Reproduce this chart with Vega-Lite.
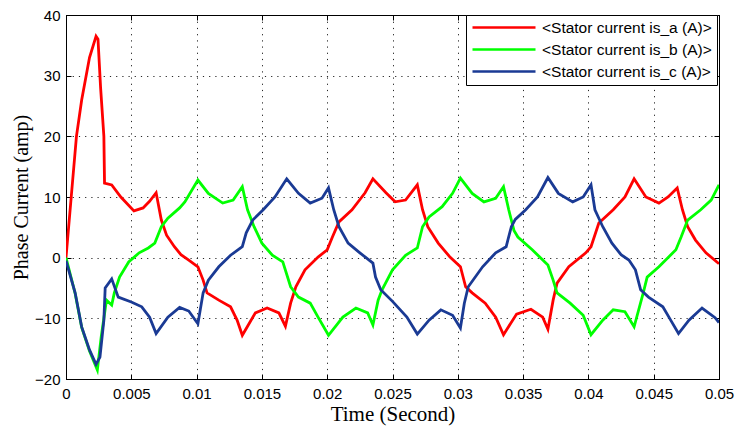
{
  "$schema": "https://vega.github.io/schema/vega-lite/v6.json",
  "width": 653,
  "height": 364,
  "autosize": "none",
  "padding": {"left": 66, "top": 15, "right": 18, "bottom": 49},
  "background": "white",
  "config": {"view": {"stroke": "black", "strokeWidth": 1}, "font": "Liberation Sans"},
  "data": {"values": [
    {"s":"a","t":0,"v":0},{"s":"a","t":0.0004,"v":10},{"s":"a","t":0.0008,"v":20},{"s":"a","t":0.0012,"v":26},{"s":"a","t":0.0018,"v":33},{"s":"a","t":0.0023,"v":36.5},{"s":"a","t":0.00245,"v":36},{"s":"a","t":0.00265,"v":28},{"s":"a","t":0.0029,"v":20},{"s":"a","t":0.00295,"v":12.3},{"s":"a","t":0.0035,"v":12},{"s":"a","t":0.0042,"v":10},{"s":"a","t":0.0052,"v":7.7},{"s":"a","t":0.0059,"v":8.2},{"s":"a","t":0.0064,"v":9.3},{"s":"a","t":0.0069,"v":10.7},{"s":"a","t":0.0073,"v":6.2},{"s":"a","t":0.0077,"v":3.7},{"s":"a","t":0.0083,"v":1.8},{"s":"a","t":0.0088,"v":0.5},{"s":"a","t":0.0094,"v":-0.4},{"s":"a","t":0.0101,"v":-1.5},{"s":"a","t":0.0105,"v":-3.7},{"s":"a","t":0.0108,"v":-5.8},{"s":"a","t":0.0117,"v":-7},{"s":"a","t":0.0126,"v":-8.1},{"s":"a","t":0.0131,"v":-10.3},{"s":"a","t":0.0135,"v":-12.8},{"s":"a","t":0.0145,"v":-9.1},{"s":"a","t":0.0154,"v":-8.3},{"s":"a","t":0.0163,"v":-9.1},{"s":"a","t":0.0168,"v":-11.3},{"s":"a","t":0.0172,"v":-7.5},{"s":"a","t":0.0176,"v":-4.8},{"s":"a","t":0.0183,"v":-2},{"s":"a","t":0.0193,"v":0.1},{"s":"a","t":0.02,"v":1.3},{"s":"a","t":0.0204,"v":3.4},{"s":"a","t":0.0209,"v":5.9},{"s":"a","t":0.0219,"v":7.9},{"s":"a","t":0.0229,"v":10.7},{"s":"a","t":0.0235,"v":13},{"s":"a","t":0.0245,"v":10.7},{"s":"a","t":0.0252,"v":9.2},{"s":"a","t":0.026,"v":9.5},{"s":"a","t":0.0269,"v":12},{"s":"a","t":0.0273,"v":7.9},{"s":"a","t":0.0277,"v":5.1},{"s":"a","t":0.0285,"v":2.4},{"s":"a","t":0.0294,"v":0.1},{"s":"a","t":0.0302,"v":-1.5},{"s":"a","t":0.0306,"v":-4.8},{"s":"a","t":0.0311,"v":-5.8},{"s":"a","t":0.0321,"v":-7.5},{"s":"a","t":0.0329,"v":-9.8},{"s":"a","t":0.0335,"v":-12.7},{"s":"a","t":0.0345,"v":-9.3},{"s":"a","t":0.0356,"v":-8.5},{"s":"a","t":0.0365,"v":-9.8},{"s":"a","t":0.0369,"v":-11.8},{"s":"a","t":0.0373,"v":-7},{"s":"a","t":0.0376,"v":-4.2},{"s":"a","t":0.0385,"v":-1.5},{"s":"a","t":0.0398,"v":0.8},{"s":"a","t":0.0402,"v":1.8},{"s":"a","t":0.0408,"v":5.7},{"s":"a","t":0.0419,"v":7.9},{"s":"a","t":0.0428,"v":10},{"s":"a","t":0.0435,"v":13},{"s":"a","t":0.0444,"v":10},{"s":"a","t":0.0454,"v":9},{"s":"a","t":0.0461,"v":10},{"s":"a","t":0.0468,"v":11.5},{"s":"a","t":0.0472,"v":7.9},{"s":"a","t":0.0476,"v":5.1},{"s":"a","t":0.0482,"v":2.9},{"s":"a","t":0.049,"v":0.8},{"s":"a","t":0.05,"v":-1},
    {"s":"b","t":0,"v":0},{"s":"b","t":0.0007,"v":-5.9},{"s":"b","t":0.0012,"v":-11.5},{"s":"b","t":0.0018,"v":-15.4},{"s":"b","t":0.0024,"v":-18.5},{"s":"b","t":0.0027,"v":-13},{"s":"b","t":0.0031,"v":-7},{"s":"b","t":0.0035,"v":-7.8},{"s":"b","t":0.0037,"v":-5.8},{"s":"b","t":0.0041,"v":-3.2},{"s":"b","t":0.0048,"v":-0.7},{"s":"b","t":0.0056,"v":0.8},{"s":"b","t":0.0063,"v":1.6},{"s":"b","t":0.0068,"v":2.4},{"s":"b","t":0.0073,"v":5.1},{"s":"b","t":0.0078,"v":6.5},{"s":"b","t":0.0087,"v":8.2},{"s":"b","t":0.0091,"v":9.2},{"s":"b","t":0.0101,"v":12.8},{"s":"b","t":0.0109,"v":10.6},{"s":"b","t":0.012,"v":9},{"s":"b","t":0.0128,"v":9.5},{"s":"b","t":0.0135,"v":11.7},{"s":"b","t":0.0139,"v":7.9},{"s":"b","t":0.0144,"v":5.1},{"s":"b","t":0.015,"v":2.4},{"s":"b","t":0.0158,"v":0.4},{"s":"b","t":0.0166,"v":-0.7},{"s":"b","t":0.0172,"v":-4.8},{"s":"b","t":0.0178,"v":-6.5},{"s":"b","t":0.0187,"v":-7.5},{"s":"b","t":0.0193,"v":-9.8},{"s":"b","t":0.0201,"v":-12.8},{"s":"b","t":0.0212,"v":-9.8},{"s":"b","t":0.0222,"v":-8.3},{"s":"b","t":0.0231,"v":-9.1},{"s":"b","t":0.0235,"v":-11.1},{"s":"b","t":0.0239,"v":-7},{"s":"b","t":0.0242,"v":-5.3},{"s":"b","t":0.025,"v":-2},{"s":"b","t":0.026,"v":0.4},{"s":"b","t":0.0269,"v":1.6},{"s":"b","t":0.0273,"v":5.1},{"s":"b","t":0.0278,"v":6.7},{"s":"b","t":0.0288,"v":8.4},{"s":"b","t":0.0296,"v":10.6},{"s":"b","t":0.0302,"v":13.1},{"s":"b","t":0.0311,"v":10.6},{"s":"b","t":0.032,"v":9.2},{"s":"b","t":0.0329,"v":9.8},{"s":"b","t":0.0335,"v":11.7},{"s":"b","t":0.0339,"v":7.9},{"s":"b","t":0.0343,"v":4.5},{"s":"b","t":0.0346,"v":3.4},{"s":"b","t":0.0357,"v":1.3},{"s":"b","t":0.0369,"v":-1.2},{"s":"b","t":0.0373,"v":-3.7},{"s":"b","t":0.0376,"v":-5.8},{"s":"b","t":0.0386,"v":-7.5},{"s":"b","t":0.0396,"v":-9.5},{"s":"b","t":0.0402,"v":-12.7},{"s":"b","t":0.0411,"v":-10.3},{"s":"b","t":0.0419,"v":-8.6},{"s":"b","t":0.0428,"v":-8.9},{"s":"b","t":0.0435,"v":-11.4},{"s":"b","t":0.0442,"v":-5.8},{"s":"b","t":0.0445,"v":-3.2},{"s":"b","t":0.0454,"v":-1.5},{"s":"b","t":0.0467,"v":1.3},{"s":"b","t":0.0471,"v":3.4},{"s":"b","t":0.0476,"v":6.2},{"s":"b","t":0.0486,"v":7.9},{"s":"b","t":0.0494,"v":9.5},{"s":"b","t":0.05,"v":12},
    {"s":"c","t":0,"v":-0.5},{"s":"c","t":0.0007,"v":-5.8},{"s":"c","t":0.0012,"v":-11.4},{"s":"c","t":0.0018,"v":-15.2},{"s":"c","t":0.0023,"v":-17.6},{"s":"c","t":0.0026,"v":-16.4},{"s":"c","t":0.0029,"v":-10.3},{"s":"c","t":0.003,"v":-5},{"s":"c","t":0.0035,"v":-3.5},{"s":"c","t":0.004,"v":-6.5},{"s":"c","t":0.005,"v":-7.3},{"s":"c","t":0.0058,"v":-8.1},{"s":"c","t":0.0064,"v":-9.8},{"s":"c","t":0.0069,"v":-12.5},{"s":"c","t":0.0078,"v":-9.8},{"s":"c","t":0.0087,"v":-8.2},{"s":"c","t":0.0094,"v":-8.8},{"s":"c","t":0.0101,"v":-10.9},{"s":"c","t":0.0105,"v":-5.8},{"s":"c","t":0.0109,"v":-3.7},{"s":"c","t":0.0117,"v":-1.5},{"s":"c","t":0.0126,"v":0.4},{"s":"c","t":0.0135,"v":1.8},{"s":"c","t":0.0138,"v":4.1},{"s":"c","t":0.0143,"v":6.2},{"s":"c","t":0.0151,"v":7.9},{"s":"c","t":0.016,"v":10},{"s":"c","t":0.0169,"v":13},{"s":"c","t":0.0178,"v":10.6},{"s":"c","t":0.0187,"v":9},{"s":"c","t":0.0196,"v":9.8},{"s":"c","t":0.0201,"v":11.5},{"s":"c","t":0.0205,"v":7.9},{"s":"c","t":0.0209,"v":5.1},{"s":"c","t":0.0216,"v":2.4},{"s":"c","t":0.0225,"v":0.8},{"s":"c","t":0.0235,"v":-0.9},{"s":"c","t":0.0237,"v":-3.2},{"s":"c","t":0.0241,"v":-5.3},{"s":"c","t":0.025,"v":-7.2},{"s":"c","t":0.0261,"v":-9.8},{"s":"c","t":0.0269,"v":-12.6},{"s":"c","t":0.0278,"v":-10.3},{"s":"c","t":0.0287,"v":-8.6},{"s":"c","t":0.0296,"v":-9.5},{"s":"c","t":0.0302,"v":-11.6},{"s":"c","t":0.0305,"v":-7.5},{"s":"c","t":0.0308,"v":-4.8},{"s":"c","t":0.0319,"v":-1.5},{"s":"c","t":0.0329,"v":0.8},{"s":"c","t":0.0337,"v":1.8},{"s":"c","t":0.0341,"v":5.1},{"s":"c","t":0.0344,"v":6.3},{"s":"c","t":0.0352,"v":7.9},{"s":"c","t":0.0361,"v":10},{"s":"c","t":0.0369,"v":13.2},{"s":"c","t":0.0377,"v":10.6},{"s":"c","t":0.0388,"v":9.2},{"s":"c","t":0.0396,"v":10},{"s":"c","t":0.0402,"v":12},{"s":"c","t":0.0405,"v":7.9},{"s":"c","t":0.0411,"v":5.1},{"s":"c","t":0.0418,"v":2.4},{"s":"c","t":0.0425,"v":0.5},{"s":"c","t":0.0431,"v":-0.4},{"s":"c","t":0.0436,"v":-2},{"s":"c","t":0.044,"v":-5.3},{"s":"c","t":0.0446,"v":-6.5},{"s":"c","t":0.0457,"v":-8.1},{"s":"c","t":0.0463,"v":-10.3},{"s":"c","t":0.0469,"v":-12.5},{"s":"c","t":0.0477,"v":-10.3},{"s":"c","t":0.0487,"v":-8.3},{"s":"c","t":0.0497,"v":-9.9},{"s":"c","t":0.05,"v":-10.7}
  ]},
  "layer": [
    {
      "mark": {"type": "line", "strokeWidth": 2.8, "clip": true},
      "encoding": {
        "x": {"field": "t", "type": "quantitative",
          "scale": {"domain": [0, 0.05], "nice": false, "zero": false},
          "axis": {"values": [0,0.005,0.01,0.015,0.02,0.025,0.03,0.035,0.04,0.045,0.05], "format": "~g",
            "title": "Time (Second)", "titleFont": "Liberation Serif", "titleFontSize": 21, "titleFontWeight": "normal", "titleColor": "black", "titlePadding": 2,
            "labelFont": "Liberation Sans", "labelFontSize": 15, "labelColor": "black", "labelPadding": 12, "labelFlush": false,
            "tickSize": -5, "tickColor": "black", "domainColor": "black",
            "grid": true, "gridColor": "black", "gridDash": [1.2, 5], "gridOpacity": 0.85}},
        "y": {"field": "v", "type": "quantitative",
          "scale": {"domain": [-20, 40], "nice": false, "zero": false},
          "axis": {"values": [-20,-10,0,10,20,30,40],
            "title": "Phase Current (amp)", "titleFont": "Liberation Serif", "titleFontSize": 20, "titleFontWeight": "normal", "titleColor": "black", "titlePadding": 3,
            "labelFont": "Liberation Sans", "labelFontSize": 15, "labelColor": "black", "labelPadding": 11, "labelFlush": false,
            "tickSize": -5, "tickColor": "black", "domainColor": "black",
            "grid": true, "gridColor": "black", "gridDash": [1.2, 5], "gridOpacity": 0.85}},
        "color": {"field": "s", "type": "nominal",
          "scale": {"domain": ["a", "b", "c"], "range": ["#ff0000", "#00ff00", "#1a3a94"]},
          "legend": {"orient": "none", "legendX": 400, "legendY": 0, "direction": "vertical", "title": null,
            "labelExpr": "'<Stator current is_' + datum.label + ' (A)>'",
            "labelFont": "Liberation Sans", "labelFontSize": 15.5, "labelColor": "black", "labelOffset": 5, "labelLimit": 300,
            "symbolType": "stroke", "symbolSize": 3969, "symbolStrokeWidth": 2.5,
            "clipHeight": 15, "rowPadding": 6, "padding": 5, "strokeColor": "black", "fillColor": "white", "cornerRadius": 0}}
      }
    },
    {
      "mark": {"type": "line", "opacity": 0},
      "encoding": {
        "x": {"field": "t", "type": "quantitative",
          "axis": {"orient": "top", "values": [0,0.005,0.01,0.015,0.02,0.025,0.03,0.035,0.04,0.045,0.05], "labels": false, "title": null, "grid": false, "tickSize": -5, "tickColor": "black", "domainColor": "black"}},
        "y": {"field": "v", "type": "quantitative",
          "axis": {"orient": "right", "values": [-20,-10,0,10,20,30,40], "labels": false, "title": null, "grid": false, "tickSize": -5, "tickColor": "black", "domainColor": "black"}}
      }
    }
  ],
  "resolve": {"axis": {"x": "independent", "y": "independent"}}
}
